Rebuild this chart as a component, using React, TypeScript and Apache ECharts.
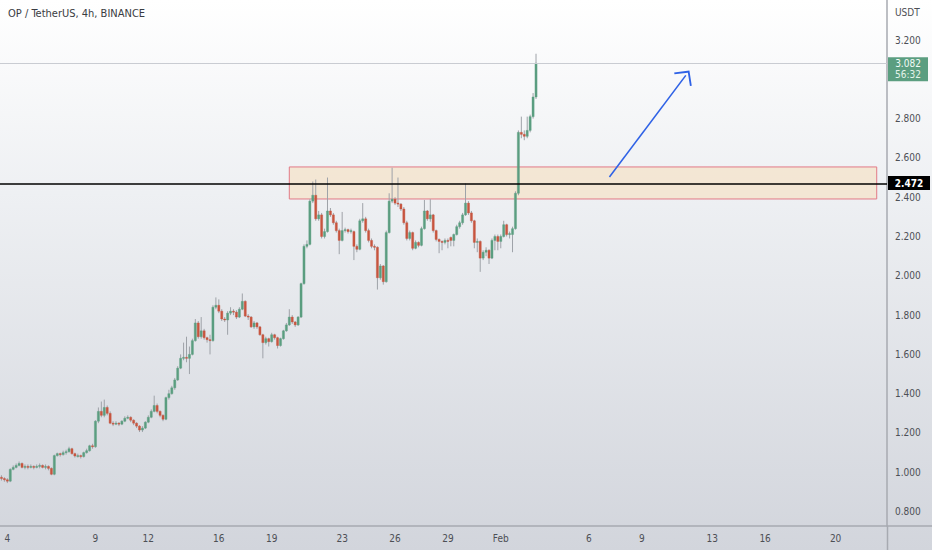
import React, { useEffect, useRef } from "react";
import * as echarts from "echarts";

// ---- data ----
const chartTitle = "OP / TetherUS, 4h, BINANCE";
const currency = "USDT";
const startTime = "2023-01-03T16:00:00Z";
const slotCount = 302;

const tickDates = ["2023-01-04", "2023-01-09", "2023-01-12", "2023-01-16", "2023-01-19", "2023-01-23", "2023-01-26", "2023-01-29", "2023-02-01", "2023-02-06", "2023-02-09", "2023-02-13", "2023-02-16", "2023-02-20"];
const tickLabels = ["4", "9", "12", "16", "19", "23", "26", "29", "Feb", "6", "9", "13", "16", "20"];
// 3.000 is hidden behind the last-price label in the reference
const priceTicks = [0.8, 1.0, 1.2, 1.4, 1.6, 1.8, 2.0, 2.2, 2.4, 2.6, 2.8, 3.2];

// [open, close, low, high]
const candles: number[][] = [
  [0.975, 0.968, 0.958, 0.985], [0.968, 0.962, 0.952, 0.975], [0.962, 0.955, 0.945, 0.97], [0.955, 1.015, 0.95, 1.02],
  [1.015, 1.025, 1.01, 1.035], [1.025, 1.035, 1.02, 1.045], [1.035, 1.045, 1.03, 1.055], [1.045, 1.025, 1.02, 1.05],
  [1.025, 1.03, 1.015, 1.04], [1.03, 1.025, 1.015, 1.04], [1.025, 1.03, 1.02, 1.04], [1.03, 1.025, 1.015, 1.035],
  [1.025, 1.03, 1.02, 1.04], [1.03, 1.035, 1.02, 1.045], [1.035, 1.025, 1.02, 1.04], [1.025, 1.03, 1.015, 1.04],
  [1.03, 1.02, 1.01, 1.035], [1.02, 0.99, 0.985, 1.025], [0.99, 1.085, 0.985, 1.09], [1.085, 1.095, 1.08, 1.1],
  [1.095, 1.09, 1.08, 1.1], [1.09, 1.1, 1.085, 1.11], [1.1, 1.105, 1.09, 1.115], [1.105, 1.12, 1.1, 1.13],
  [1.12, 1.095, 1.09, 1.125], [1.095, 1.083, 1.075, 1.1], [1.083, 1.085, 1.075, 1.095], [1.085, 1.08, 1.07, 1.09],
  [1.08, 1.1, 1.075, 1.105], [1.1, 1.11, 1.095, 1.12], [1.11, 1.135, 1.105, 1.14], [1.135, 1.13, 1.12, 1.145],
  [1.13, 1.26, 1.125, 1.265], [1.26, 1.31, 1.25, 1.33], [1.31, 1.29, 1.28, 1.36], [1.29, 1.33, 1.28, 1.37],
  [1.33, 1.3, 1.29, 1.34], [1.3, 1.25, 1.245, 1.31], [1.25, 1.245, 1.235, 1.26], [1.245, 1.25, 1.24, 1.26],
  [1.25, 1.245, 1.235, 1.255], [1.245, 1.26, 1.24, 1.265], [1.26, 1.275, 1.255, 1.285], [1.275, 1.28, 1.27, 1.29],
  [1.28, 1.265, 1.255, 1.285], [1.265, 1.25, 1.24, 1.27], [1.25, 1.235, 1.225, 1.255], [1.235, 1.215, 1.205, 1.24],
  [1.215, 1.225, 1.205, 1.235], [1.225, 1.255, 1.22, 1.26], [1.255, 1.28, 1.25, 1.29], [1.28, 1.31, 1.275, 1.32],
  [1.31, 1.34, 1.305, 1.39], [1.34, 1.31, 1.3, 1.35], [1.31, 1.29, 1.28, 1.315], [1.29, 1.27, 1.26, 1.295],
  [1.27, 1.38, 1.265, 1.385], [1.38, 1.4, 1.37, 1.42], [1.4, 1.43, 1.395, 1.44], [1.43, 1.47, 1.42, 1.48],
  [1.47, 1.53, 1.465, 1.54], [1.53, 1.58, 1.525, 1.6], [1.58, 1.585, 1.57, 1.66], [1.585, 1.58, 1.56, 1.69],
  [1.58, 1.6, 1.5, 1.64], [1.6, 1.67, 1.595, 1.68], [1.67, 1.76, 1.665, 1.78], [1.76, 1.69, 1.68, 1.77],
  [1.69, 1.72, 1.68, 1.79], [1.72, 1.685, 1.675, 1.73], [1.685, 1.675, 1.66, 1.69], [1.675, 1.67, 1.6, 1.7],
  [1.67, 1.84, 1.665, 1.85], [1.84, 1.85, 1.83, 1.89], [1.85, 1.82, 1.81, 1.88], [1.82, 1.78, 1.77, 1.83],
  [1.78, 1.775, 1.765, 1.79], [1.775, 1.81, 1.7, 1.82], [1.81, 1.82, 1.8, 1.84], [1.82, 1.815, 1.8, 1.83],
  [1.815, 1.79, 1.78, 1.825], [1.79, 1.83, 1.785, 1.84], [1.83, 1.87, 1.825, 1.91], [1.87, 1.795, 1.79, 1.875],
  [1.795, 1.79, 1.775, 1.805], [1.79, 1.74, 1.735, 1.795], [1.74, 1.76, 1.73, 1.77], [1.76, 1.74, 1.73, 1.765],
  [1.74, 1.7, 1.695, 1.745], [1.7, 1.66, 1.58, 1.705], [1.66, 1.68, 1.65, 1.69], [1.68, 1.665, 1.64, 1.685],
  [1.665, 1.7, 1.66, 1.71], [1.7, 1.685, 1.675, 1.705], [1.685, 1.645, 1.63, 1.69], [1.645, 1.68, 1.64, 1.685],
  [1.68, 1.72, 1.675, 1.725], [1.72, 1.75, 1.715, 1.76], [1.75, 1.79, 1.745, 1.83], [1.79, 1.765, 1.755, 1.8],
  [1.765, 1.75, 1.74, 1.77], [1.75, 1.79, 1.745, 1.795], [1.79, 1.96, 1.785, 1.965], [1.96, 2.15, 1.955, 2.16],
  [2.15, 2.16, 2.14, 2.18], [2.16, 2.38, 2.155, 2.39], [2.38, 2.41, 2.37, 2.48], [2.41, 2.29, 2.28, 2.49],
  [2.29, 2.31, 2.28, 2.33], [2.31, 2.2, 2.19, 2.32], [2.2, 2.225, 2.19, 2.24], [2.225, 2.33, 2.22, 2.5],
  [2.33, 2.31, 2.3, 2.345], [2.31, 2.27, 2.26, 2.32], [2.27, 2.23, 2.22, 2.28], [2.23, 2.18, 2.11, 2.24],
  [2.18, 2.23, 2.175, 2.325], [2.23, 2.235, 2.22, 2.245], [2.235, 2.225, 2.215, 2.24], [2.225, 2.23, 2.215, 2.24],
  [2.225, 2.15, 2.08, 2.23], [2.15, 2.135, 2.12, 2.16], [2.135, 2.28, 2.13, 2.29], [2.28, 2.29, 2.27, 2.37],
  [2.29, 2.23, 2.22, 2.3], [2.23, 2.18, 2.17, 2.24], [2.18, 2.15, 2.14, 2.19], [2.15, 2.145, 2.13, 2.16],
  [2.145, 1.99, 1.93, 2.15], [1.99, 2.05, 1.98, 2.06], [2.05, 1.97, 1.955, 2.055], [1.97, 2.22, 1.965, 2.23],
  [2.22, 2.38, 2.215, 2.42], [2.38, 2.39, 2.37, 2.55], [2.39, 2.37, 2.36, 2.4], [2.37, 2.365, 2.35, 2.5],
  [2.365, 2.34, 2.33, 2.37], [2.34, 2.27, 2.26, 2.35], [2.27, 2.19, 2.18, 2.28], [2.19, 2.22, 2.18, 2.23],
  [2.22, 2.14, 2.13, 2.225], [2.14, 2.17, 2.135, 2.18], [2.17, 2.155, 2.145, 2.175], [2.155, 2.24, 2.15, 2.25],
  [2.24, 2.33, 2.235, 2.386], [2.33, 2.29, 2.28, 2.335], [2.29, 2.31, 2.275, 2.39], [2.31, 2.23, 2.22, 2.315],
  [2.23, 2.185, 2.175, 2.235], [2.185, 2.175, 2.115, 2.19], [2.175, 2.17, 2.13, 2.18], [2.17, 2.18, 2.16, 2.19],
  [2.18, 2.175, 2.14, 2.19], [2.195, 2.18, 2.15, 2.2], [2.18, 2.21, 2.15, 2.215], [2.21, 2.25, 2.205, 2.26],
  [2.25, 2.27, 2.24, 2.28], [2.27, 2.31, 2.26, 2.32], [2.31, 2.37, 2.305, 2.47], [2.37, 2.32, 2.31, 2.38],
  [2.32, 2.28, 2.27, 2.33], [2.28, 2.17, 2.14, 2.285], [2.17, 2.175, 2.12, 2.19], [2.175, 2.09, 2.02, 2.18],
  [2.09, 2.12, 2.08, 2.13], [2.12, 2.13, 2.1, 2.145], [2.13, 2.09, 2.06, 2.135], [2.09, 2.18, 2.085, 2.19],
  [2.18, 2.2, 2.13, 2.21], [2.2, 2.175, 2.13, 2.21], [2.175, 2.2, 2.14, 2.21], [2.2, 2.26, 2.195, 2.28],
  [2.26, 2.21, 2.2, 2.265], [2.21, 2.215, 2.19, 2.225], [2.21, 2.24, 2.12, 2.25], [2.24, 2.42, 2.235, 2.43],
  [2.42, 2.73, 2.41, 2.74], [2.73, 2.72, 2.7, 2.81], [2.72, 2.71, 2.69, 2.74], [2.71, 2.74, 2.7, 2.81],
  [2.74, 2.81, 2.73, 2.82], [2.81, 2.91, 2.8, 2.93], [2.91, 3.082, 2.9, 3.13],
];

const lastPrice = 3.082;
const countdown = "56:32";
const levelPrice = 2.472;
const zoneTop = 2.554;
const zoneBottom = 2.391;
const zoneStartSlot = 98;
const zoneEndSlot = 298;
const arrowFrom = { slot: 207, price: 2.503 };
const arrowTo = { slot: 233, price: 3.02 };

const yMin = 0.7267;
const yMax = 3.4036;

const GREEN = "#5b9e80";
const RED = "#c8553f";
const WICK = "#9ea2a8";
const FONT = "'Liberation Sans Narrow', 'DejaVu Sans Condensed', 'Roboto', sans-serif";

function pad(n: number) {
  return n < 10 ? "0" + n : "" + n;
}

function buildCategories(): string[] {
  const start = new Date(startTime).getTime();
  const out: string[] = [];
  for (let i = 0; i < slotCount; i++) {
    const d = new Date(start + i * 4 * 3600 * 1000);
    out.push(
      d.getUTCFullYear() + "-" + pad(d.getUTCMonth() + 1) + "-" + pad(d.getUTCDate()) + " " + pad(d.getUTCHours()) + ":00"
    );
  }
  return out;
}

export default function App() {
  const ref = useRef<HTMLDivElement>(null);

  useEffect(() => {
    if (!ref.current) return;
    const chart = echarts.init(ref.current, undefined, { renderer: "svg" });
    const categories = buildCategories();
    const tickMap: Record<string, string> = {};
    tickDates.forEach((d, i) => {
      tickMap[d + " 00:00"] = tickLabels[i];
    });
    const seriesData = candles.map((c, i) => [i, c[0], c[1], c[2], c[3]]);

    const option: any = {
      animation: false,
      backgroundColor: "transparent",
      grid: { left: 0, right: 45, top: 0, bottom: 24, containLabel: false },
      xAxis: {
        type: "category",
        data: categories,
        boundaryGap: true,
        axisLine: { show: true, lineStyle: { color: "#a7aab1", width: 1.5 } },
        axisTick: { show: false },
        splitLine: { show: false },
        axisLabel: {
          interval: (_i: number, v: string) => tickMap[v] !== undefined,
          formatter: (v: string) => tickMap[v] || "",
          color: "#4d4f55",
          fontSize: 10,
          fontFamily: FONT,
          margin: 7,
        },
      },
      yAxis: {
        type: "value",
        position: "right",
        min: yMin,
        max: yMax,
        scale: true,
        axisLine: { show: true, lineStyle: { color: "#a7aab1", width: 1.5 } },
        axisTick: { show: false },
        splitLine: { show: false },
        axisLabel: {
          customValues: priceTicks,
          formatter: (v: number) => v.toFixed(3),
          color: "#4d4f55",
          fontSize: 10,
          fontFamily: FONT,
          margin: 8,
        },
      },
      series: [
        {
          type: "line",
          data: [],
          silent: true,
          markArea: {
            silent: true,
            itemStyle: { color: "rgba(244, 228, 204, 0.8)", borderColor: "#e27a86", borderWidth: 1 },
            label: { show: false },
            data: [[{ xAxis: categories[zoneStartSlot], yAxis: zoneTop }, { xAxis: categories[zoneEndSlot], yAxis: zoneBottom }]],
          },
          markLine: {
            silent: true,
            symbol: "none",
            label: { show: false },
            data: [
              { yAxis: lastPrice, lineStyle: { color: "#c9ccd2", width: 1, type: "solid" } },
              { yAxis: levelPrice, lineStyle: { color: "#000000", width: 1.5, type: "solid" } },
            ],
          },
        },
        {
          type: "custom",
          data: seriesData,
          encode: { x: 0, y: [1, 2, 3, 4] },
          clip: true,
          renderItem: (_params: any, api: any) => {
            const idx = api.value(0);
            const o = api.value(1);
            const c = api.value(2);
            const l = api.value(3);
            const h = api.value(4);
            const pO = api.coord([idx, o]);
            const pC = api.coord([idx, c]);
            const pL = api.coord([idx, l]);
            const pH = api.coord([idx, h]);
            const bw = Math.max(1, api.size([1, 0])[0] * 0.72);
            const color = c >= o ? GREEN : RED;
            const top = Math.min(pO[1], pC[1]);
            const hgt = Math.max(1, Math.abs(pO[1] - pC[1]));
            return {
              type: "group",
              children: [
                {
                  type: "line",
                  shape: { x1: pO[0], y1: pH[1], x2: pO[0], y2: pL[1] },
                  style: { stroke: WICK, lineWidth: 1 },
                },
                {
                  type: "rect",
                  shape: { x: pO[0] - bw / 2, y: top, width: bw, height: hgt },
                  style: { fill: color, stroke: color, lineWidth: 0.4 },
                },
              ],
            };
          },
        },
        {
          type: "line",
          data: [],
          silent: true,
          markLine: {
            silent: true,
            label: { show: false },
            lineStyle: { color: "#2f62e6", width: 1.6, type: "solid" },
            data: [
              [
                { coord: [categories[arrowFrom.slot], arrowFrom.price], symbol: "none" },
                {
                  coord: [categories[arrowTo.slot], arrowTo.price],
                  symbol: "path://M0,10 L10,0 L20,10 L18.8,11.2 L10,2.4 L1.2,11.2 Z",
                  symbolSize: [22, 12],
                },
              ],
            ],
          },
        },
      ],
    };
    chart.setOption(option);

    const yLevel = chart.convertToPixel({ yAxisIndex: 0 }, levelPrice) as number;
    const yLast = chart.convertToPixel({ yAxisIndex: 0 }, lastPrice) as number;

    chart.setOption({
      graphic: [
        {
          type: "text",
          left: 8,
          top: 8,
          z: 100,
          style: { text: chartTitle, fill: "#3a3c42", fontSize: 11, fontFamily: FONT },
        },
        {
          type: "text",
          x: 895,
          y: 12,
          z: 100,
          style: { text: currency, fill: "#4d4f55", fontSize: 10, fontFamily: FONT, verticalAlign: "middle" },
        },
        {
          type: "line",
          z: 100,
          shape: { x1: 887, y1: 526, x2: 932, y2: 526 },
          style: { stroke: "#a7aab1", lineWidth: 1.5 },
        },
        {
          type: "line",
          z: 100,
          shape: { x1: 887.5, y1: 526, x2: 887.5, y2: 550 },
          style: { stroke: "#a7aab1", lineWidth: 1.5 },
        },
        {
          type: "rect",
          z: 100,
          shape: { x: 888, y: yLevel - 7, width: 42, height: 14 },
          style: { fill: "#000000" },
        },
        {
          type: "text",
          z: 101,
          x: 909,
          y: yLevel,
          style: { text: levelPrice.toFixed(3), fill: "#ffffff", fontSize: 10, fontWeight: "bold", fontFamily: FONT, align: "center", verticalAlign: "middle" },
        },
        {
          type: "rect",
          z: 100,
          shape: { x: 888, y: yLast - 6, width: 40, height: 24 },
          style: { fill: GREEN },
        },
        {
          type: "text",
          z: 101,
          x: 908,
          y: yLast,
          style: { text: lastPrice.toFixed(3), fill: "#f2fbf6", fontSize: 10, fontFamily: FONT, align: "center", verticalAlign: "middle" },
        },
        {
          type: "text",
          z: 101,
          x: 908,
          y: yLast + 11,
          style: { text: countdown, fill: "#e4f3ea", fontSize: 10, fontFamily: FONT, align: "center", verticalAlign: "middle" },
        },
      ],
    });

    return () => chart.dispose();
  }, []);

  return (
    <div
      style={{
        position: "fixed",
        left: 0,
        top: 0,
        width: 932,
        height: 550,
        background: "linear-gradient(to bottom, #ffffff 0%, #eef0f3 35%, #d2d5dc 100%)",
      }}
    >
      <div ref={ref} style={{ width: 932, height: 550 }} />
    </div>
  );
}
